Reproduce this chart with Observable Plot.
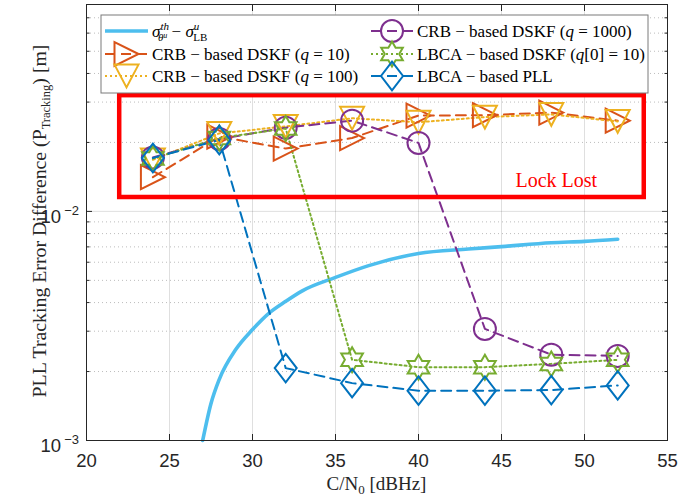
<!DOCTYPE html>
<html><head><meta charset="utf-8">
<script src="https://cdn.jsdelivr.net/npm/d3@7"></script>
<script src="https://cdn.jsdelivr.net/npm/@observablehq/plot@0.6"></script>
<style>html,body{margin:0;padding:0;background:#fff} svg{display:block}</style>
</head><body><div id="chart"></div>
<script>
// ---------- data ----------
const cn0 = [24, 28, 32, 36, 40, 44, 48, 52];
const crbQ10   = [0.0141, 0.0212, 0.0188, 0.0209, 0.0262, 0.0263, 0.0270, 0.0249];
const crbQ100  = [0.0168, 0.0219, 0.0235, 0.0255, 0.0245, 0.0258, 0.0265, 0.0247];
const crbQ1000 = [0.0172, 0.0207, 0.0232, 0.0249, 0.0199, 0.00307, 0.00237, 0.00234];
const lbcaDskf = [0.0170, 0.0209, 0.0230, 0.00225, 0.00209, 0.00209, 0.00216, 0.00225];
const lbcaPll  = [0.0171, 0.0205, 0.00207, 0.00178, 0.00165, 0.00165, 0.00166, 0.00174];
const boundX = [27.0, 27.5, 28, 29, 30, 31, 32, 33, 35, 37, 40, 43, 45, 48, 50, 52];
const boundY = [0.00100, 0.00145, 0.00185, 0.00250, 0.00305, 0.00360, 0.00405, 0.00450,
                0.00515, 0.00580, 0.00655, 0.00685, 0.00702, 0.00730, 0.00740, 0.00756];
const xTicks = [20, 25, 30, 35, 40, 45, 50, 55];
const xGrid = [25, 30, 35, 40, 45, 50];
const yTicks = [0.001, 0.01];
const yTickExp = ["\u22123", "\u22122"];
const yMinor = [0.002, 0.003, 0.004, 0.005, 0.006, 0.007, 0.008, 0.009,
                0.02, 0.03, 0.04, 0.05, 0.06, 0.07, 0.08];
const yMajorGrid = [0.01];
const lockBoxX = [22, 53.6];
const lockBoxY = [0.0115, 0.032];
const lockTextX = [48.3];
const lockTextY = [0.0136];
const lockText = ["Lock Lost"];

const colors = {
  bound: "#4DBEEE", q10: "#D95319", q100: "#EDB120",
  q1000: "#7E2F8E", dskf: "#77AC30", pll: "#0072BD"
};

// ---------- custom MATLAB-like marker shapes ----------
const rOf = s => Math.sqrt(s / Math.PI);
const symTriRight = {draw(c, s) { const r = rOf(s); c.moveTo(r, 0); c.lineTo(-r, -r); c.lineTo(-r, r); c.closePath(); }};
const symTriDown  = {draw(c, s) { const r = rOf(s); c.moveTo(-r, -r * 0.95); c.lineTo(r, -r * 0.95); c.lineTo(0, r * 0.95); c.closePath(); }};
const symCircle   = {draw(c, s) { const r = rOf(s); c.moveTo(r, 0); c.arc(0, 0, r, 0, 2 * Math.PI); c.closePath(); }};
const symDiamond  = {draw(c, s) { const r = rOf(s); c.moveTo(0, -r * 1.3); c.lineTo(r, 0); c.lineTo(0, r * 1.3); c.lineTo(-r, 0); c.closePath(); }};
const symHexagram = {draw(c, s) {
  const R = rOf(s), ri = R / Math.sqrt(3);
  for (let k = 0; k < 12; k++) {
    const a = -Math.PI / 2 + k * Math.PI / 6, rr = k % 2 ? ri : R;
    const px = rr * Math.cos(a), py = rr * Math.sin(a);
    if (k === 0) c.moveTo(px, py); else c.lineTo(px, py);
  }
  c.closePath();
}};

const rows = cn0.map((x, i) => ({x, q10: crbQ10[i], q100: crbQ100[i], q1000: crbQ1000[i], dskf: lbcaDskf[i], pll: lbcaPll[i]}));
const bound = boundX.map((x, i) => ({x, y: boundY[i]}));
const lockBox = [{x1: lockBoxX[0], x2: lockBoxX[1], y1: lockBoxY[0], y2: lockBoxY[1]}];
const lockLabel = lockText.map((t, i) => ({x: lockTextX[i], y: lockTextY[i], t}));

const series = [
  {key: "q10",   color: colors.q10,   dash: "10,6", sym: symTriRight, r: 12},
  {key: "q100",  color: colors.q100,  dash: "2,3",  sym: symTriDown,  r: 12},
  {key: "q1000", color: colors.q1000, dash: "10,6", sym: symCircle,   r: 11},
  {key: "dskf",  color: colors.dskf,  dash: "2,3",  sym: symHexagram, r: 12.5},
  {key: "pll",   color: colors.pll,   dash: "10,6", sym: symDiamond,  r: 11}
];

const axisColor = "#262626";
const marks = [
  Plot.ruleX(xGrid, {stroke: axisColor, strokeOpacity: 0.15}),
  Plot.ruleY(yMinor, {stroke: axisColor, strokeOpacity: 0.3, strokeDasharray: "1,3"}),
  Plot.ruleY(yMajorGrid, {stroke: axisColor, strokeOpacity: 0.15}),
  Plot.line(bound, {x: "x", y: "y", stroke: colors.bound, strokeWidth: 3.6, curve: "monotone-x"})
];
for (const s of series) {
  marks.push(Plot.line(rows, {x: "x", y: s.key, stroke: s.color, strokeWidth: 2, strokeDasharray: s.dash}));
}
for (const s of series) {
  marks.push(Plot.dot(rows, {x: "x", y: s.key, stroke: s.color, fill: "none", strokeWidth: 2, symbol: s.sym, r: s.r}));
}
marks.push(
  Plot.rect(lockBox, {x1: "x1", x2: "x2", y1: "y1", y2: "y2", fill: "none", stroke: "#ff0000", strokeWidth: 4.5}),
  Plot.text(lockLabel, {x: "x", y: "y", text: "t", fill: "#ff0000", fontSize: 20, fontFamily: "'Liberation Serif', 'Times New Roman', serif"}),
  Plot.frame({stroke: axisColor, strokeWidth: 1}),
  Plot.axisX(xTicks, {anchor: "bottom", tickSize: -6, tickPadding: 19, label: null, stroke: axisColor, fill: axisColor}),
  Plot.axisX(xTicks, {anchor: "top", tickSize: -6, tickFormat: () => "", label: null, stroke: axisColor}),
  Plot.axisY(yTicks, {anchor: "left", tickSize: -6, tickFormat: () => "", label: null, stroke: axisColor}),
  Plot.axisY(yTicks, {anchor: "right", tickSize: -6, tickFormat: () => "", label: null, stroke: axisColor}),
  Plot.axisY(yMinor, {anchor: "left", tickSize: -3.5, tickFormat: () => "", label: null, stroke: axisColor}),
  Plot.axisY(yMinor, {anchor: "right", tickSize: -3.5, tickFormat: () => "", label: null, stroke: axisColor})
);

const plot = Plot.plot({
  width: 697, height: 501,
  marginLeft: 86, marginRight: 30, marginTop: 4, marginBottom: 61,
  x: {domain: [20, 55], label: null},
  y: {type: "log", domain: [0.001, 0.08], label: null},
  style: {fontFamily: "'Liberation Sans', Arial, sans-serif", fontSize: "18.5px", color: axisColor, background: "#fff", overflow: "visible"},
  marks
});
document.getElementById("chart").appendChild(plot);

// ---------- extra text and legend, positioned through the Plot scales ----------
const sx = plot.scale("x"), sy = plot.scale("y");
const svg = d3.select(plot);
const serif = "'Liberation Serif', 'Times New Roman', serif";
const xL = sx.apply(20), xR = sx.apply(55), yB = sy.apply(0.001), yT = sy.apply(0.08);

// y tick labels 10^k
yTicks.forEach((v, i) => {
  const t = svg.append("text").attr("x", xL - 25).attr("y", sy.apply(v) + 12)
    .attr("text-anchor", "end").attr("fill", axisColor)
    .style("font-family", "'Liberation Sans', Arial, sans-serif").style("font-size", "18.5px");
  t.append("tspan").text("10");
  t.append("tspan").attr("x", xL - 7).attr("dy", -8).attr("text-anchor", "end").style("font-size", "13px").text(yTickExp[i]);
});

// axis titles
const xt = svg.append("text").attr("x", (xL + xR) / 2).attr("y", 490).attr("text-anchor", "middle")
  .attr("fill", "#262626").style("font-family", serif).style("font-size", "19px");
xt.append("tspan").text("C/N");
xt.append("tspan").attr("dy", 4).style("font-size", "13px").text("0");
xt.append("tspan").attr("dy", -4).text(" [dBHz]");

const yt = svg.append("text").attr("transform", `translate(46,${(yT + yB) / 2 - 1}) rotate(-90)`)
  .attr("text-anchor", "middle").attr("fill", "#262626").style("font-family", serif).style("font-size", "19.8px");
yt.append("tspan").text("PLL Tracking Error Difference (P");
yt.append("tspan").attr("dy", 4).style("font-size", "12.5px").text("Tracking");
yt.append("tspan").attr("dy", -4).text(") [m]");

// legend
const lg = svg.append("g").attr("text-anchor", "start");
lg.append("rect").attr("x", 101).attr("y", 15).attr("width", 547).attr("height", 78)
  .attr("fill", "#fff").attr("stroke", "#7a7a7a").attr("stroke-width", 1);
const rowsY = [31, 54, 76];
const cols = [{x0: 105, x1: 148, tx: 152}, {x0: 371, x1: 413, tx: 417}];
const fs = "17px";
function sample(col, row, color, width, dash, sym, r) {
  const y = rowsY[row], c = cols[col];
  lg.append("line").attr("x1", c.x0).attr("x2", c.x1).attr("y1", y).attr("y2", y)
    .attr("stroke", color).attr("stroke-width", width).attr("stroke-dasharray", dash || null);
  if (sym) lg.append("path").attr("d", d3.symbol(sym, Math.PI * r * r)())
    .attr("transform", `translate(${(c.x0 + c.x1) / 2},${y})`)
    .attr("fill", "none").attr("stroke", color).attr("stroke-width", 2);
}
function label(col, row) {
  return lg.append("text").attr("x", cols[col].tx).attr("y", rowsY[row] + 6)
    .attr("text-anchor", "start")
    .attr("fill", "#000").style("font-family", serif).style("font-size", fs);
}
sample(0, 0, colors.bound, 3.6, null, null, 0);
{
  const t = label(0, 0);
  t.append("tspan").style("font-style", "italic").text("\u03C3");
  t.append("tspan").attr("dy", -7).style("font-size", "11px").style("font-style", "italic").text("th");
  t.append("tspan").attr("dx", -11).attr("dy", 11).style("font-size", "11px").style("font-style", "italic").text("\u03B8");
  t.append("tspan").attr("dy", -3).style("font-size", "8px").style("font-style", "italic").text("u");
  t.append("tspan").attr("dy", -1).text(" \u2212 ");
  t.append("tspan").style("font-style", "italic").text("\u03C3");
  t.append("tspan").attr("dy", -7).style("font-size", "11px").style("font-style", "italic").text("u");
  t.append("tspan").attr("dx", -6).attr("dy", 11).style("font-size", "11px").text("LB");
}
const legendTexts = [
  {col: 0, row: 1, s: series[0], pre: "CRB \u2212 based DSKF (", q: "q", post: " = 10)"},
  {col: 0, row: 2, s: series[1], pre: "CRB \u2212 based DSKF (", q: "q", post: " = 100)"},
  {col: 1, row: 0, s: series[2], pre: "CRB \u2212 based DSKF (", q: "q", post: " = 1000)"},
  {col: 1, row: 1, s: series[3], pre: "LBCA \u2212 based DSKF (", q: "q", post: "[0] = 10)"},
  {col: 1, row: 2, s: series[4], pre: "LBCA \u2212 based PLL", q: "", post: ""}
];
for (const e of legendTexts) {
  sample(e.col, e.row, e.s.color, 2, e.s.dash, e.s.sym, e.s.r);
  const t = label(e.col, e.row);
  t.append("tspan").text(e.pre);
  if (e.q) t.append("tspan").style("font-style", "italic").text(e.q);
  if (e.post) t.append("tspan").text(e.post);
}
</script>
</body></html>
